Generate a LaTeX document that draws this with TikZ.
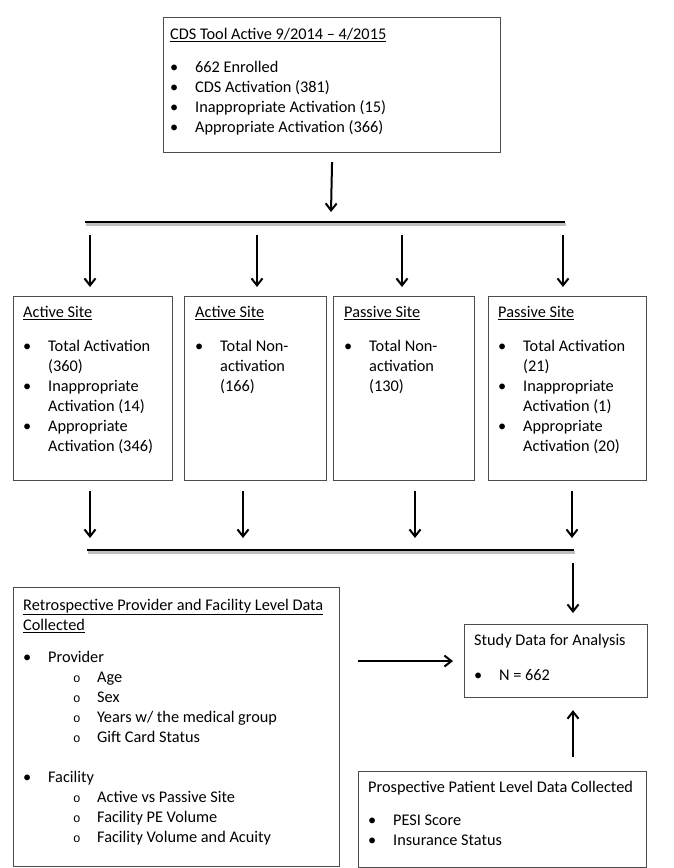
\documentclass[tikz,border=0pt]{standalone}
\usepackage{fontspec}
\setmainfont{Carlito}
\newfontfamily\monof{Liberation Mono}
\usetikzlibrary{arrows.meta}
\newcommand{\bl}{\makebox[25pt][l]{\textbullet}}
\newcommand{\cn}{\hspace*{25pt}}
\newcommand{\sbl}{\hspace*{50pt}\makebox[24pt][l]{{\monof\fontsize{12.5}{12}\selectfont o}}}
\begin{document}
\begin{tikzpicture}[x=1pt,y=-1pt,
  box/.style={draw=black!70,line width=1.1pt,anchor=north west,inner sep=0pt},
  txt/.style={anchor=north west,inner sep=0pt,align=left,font=\fontsize{16.3}{20}\selectfont},
  arr/.style={line width=2pt,-{Straight Barb[length=7pt,width=11pt,line width=2pt]}},
  bar/.style={line width=2.6pt},
  shd/.style={line width=3pt,draw=black!25}]
\useasboundingbox[fill=white] (0,0) rectangle (673,868);

% boxes
\node[box,minimum width=337pt,minimum height=135pt] (top) at (163,17) {};
\node[box,minimum width=159pt,minimum height=184pt] (b1) at (13,296) {};
\node[box,minimum width=142pt,minimum height=184pt] (b2) at (184,296) {};
\node[box,minimum width=141pt,minimum height=184pt] (b3) at (333,296) {};
\node[box,minimum width=158pt,minimum height=184pt] (b4) at (488,296) {};
\node[box,minimum width=326pt,minimum height=279pt] (retro) at (13,587) {};
\node[box,minimum width=183pt,minimum height=73pt] (study) at (464,624) {};
\node[box,minimum width=288pt,minimum height=96pt] (prosp) at (358,771) {};

% texts
\node[txt] (toptxt) at (170,25) {\strut\underline{CDS Tool Active 9/2014 -- 4/2015}\\[13pt]
\bl 662 Enrolled\\ \bl CDS Activation (381)\\ \bl Inappropriate Activation (15)\\ \bl Appropriate Activation (366)};
\node[txt] (b1txt) at (23,303) {\strut\underline{Active Site}\\[14pt]
\bl Total Activation\\ \cn (360)\\ \bl Inappropriate\\ \cn Activation (14)\\ \bl Appropriate\\ \cn Activation (346)};
\node[txt] (b2txt) at (195,303) {\strut\underline{Active Site}\\[14pt]
\bl Total Non-\\ \cn activation\\ \cn (166)};
\node[txt] (b3txt) at (344,303) {\strut\underline{Passive Site}\\[14pt]
\bl Total Non-\\ \cn activation\\ \cn (130)};
\node[txt] (b4txt) at (498,303) {\strut\underline{Passive Site}\\[14pt]
\bl Total Activation\\ \cn (21)\\ \bl Inappropriate\\ \cn Activation (1)\\ \bl Appropriate\\ \cn Activation (20)};
\node[txt] (retrotxt) at (23,596) {\strut\underline{Retrospective Provider and Facility Level Data}\\ \underline{Collected}\\[12pt]
\bl Provider\\ \sbl Age\\ \sbl Sex\\ \sbl Years w/ the medical group\\ \sbl Gift Card Status\\[20pt]
\bl Facility\\ \sbl Active vs Passive Site\\ \sbl Facility PE Volume\\ \sbl Facility Volume and Acuity};
\node[txt] (studytxt) at (474,631) {\strut Study Data for Analysis\\[15pt] \bl N = 662};
\node[txt] (prosptxt) at (368,778) {\strut Prospective Patient Level Data Collected\\[13pt]
\bl PESI Score\\ \bl Insurance Status};

% split bar
\coordinate (h1l) at (85,222);
\coordinate (h1r) at (565,222);
\coordinate (t1) at (331,212);
\draw[shd] ([xshift=1pt,yshift=-2.5pt]h1l) -- ([xshift=1pt,yshift=-2.5pt]h1r);
\draw[bar] (h1l) -- (h1r);
\draw[arr] ([yshift=-9pt]top.south) -- (t1);
\coordinate (a1) at (90,235);
\coordinate (a2) at (257,235);
\coordinate (a3) at (402,235);
\coordinate (a4) at (563,235);
\draw[arr,shorten >=9pt] (a1) -- (a1 |- b1.north);
\draw[arr,shorten >=9pt] (a2) -- (a2 |- b2.north);
\draw[arr,shorten >=9pt] (a3) -- (a3 |- b3.north);
\draw[arr,shorten >=9pt] (a4) -- (a4 |- b4.north);

% merge bar
\coordinate (h2l) at (87,550);
\coordinate (h2r) at (574,550);
\coordinate (d1) at (90,550);
\coordinate (d2) at (243,550);
\coordinate (d3) at (415,550);
\coordinate (d4) at (572,550);
\draw[shd] ([xshift=1pt,yshift=-2.5pt]h2l) -- ([xshift=1pt,yshift=-2.5pt]h2r);
\draw[bar] (h2l) -- (h2r);
\draw[arr,shorten <=10pt,shorten >=12pt] (b1.south -| d1) -- (d1);
\draw[arr,shorten <=10pt,shorten >=12pt] (b2.south -| d2) -- (d2);
\draw[arr,shorten <=10pt,shorten >=12pt] (b3.south -| d3) -- (d3);
\draw[arr,shorten <=10pt,shorten >=12pt] (b4.south -| d4) -- (d4);

% into study
\coordinate (e1) at (573,563);
\coordinate (e2) at (573,0);
\draw[arr,shorten >=11pt] (e1) -- (e1 |- study.north);
\draw[arr,shorten <=18pt,shorten >=11pt] (retro.east |- study.west) -- (study.west);
\draw[arr,shorten <=14pt,shorten >=12pt] (e2 |- prosp.north) -- (e2 |- study.south);
\end{tikzpicture}
\end{document}
